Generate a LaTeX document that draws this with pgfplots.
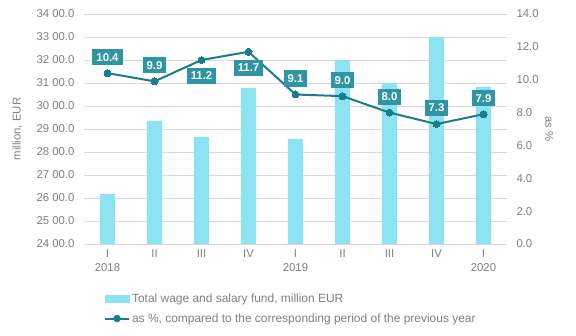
\documentclass[border=0pt]{standalone}
\usepackage{fontspec}
\setmainfont{Liberation Sans}
\usepackage{pgfplots}
\pgfplotsset{compat=1.18}
\definecolor{barcol}{HTML}{8CE4F2}
\definecolor{linecol}{HTML}{1B7D8C}
\definecolor{boxcol}{HTML}{2E95A3}
\definecolor{txtcol}{HTML}{7F7F7F}
\definecolor{gridcol}{HTML}{D9D9D9}
\begin{document}
\begin{tikzpicture}
\useasboundingbox (0bp,0bp) rectangle (576bp,336bp);
\pgfplotsset{
  base/.style={
    at={(84bp,92bp)}, anchor=south west,
    scale only axis, width=423bp, height=230bp,
    xmin=-0.5, xmax=8.5,
    xtick={0,...,8},
    major tick length=0pt,
    tick label style={font=\fontsize{11.4}{12}\selectfont, text=txtcol},
    label style={font=\fontsize{11.4}{12}\selectfont, text=txtcol},
    /pgf/number format/assume math mode=true,
  },
  lbl/.style={draw=none,
    nodes near coords={\pgfmathprintnumber[fixed,fixed zerofill,precision=1]{\pgfplotspointmeta}},
    every node near coord/.append style={fill=boxcol, text=white,
      font=\fontsize{11.4}{12}\selectfont\bfseries, inner xsep=4bp, inner ysep=4bp, anchor=center, yshift=#1}},
}
\begin{axis}[base,
  axis x line=none, axis y line*=left, axis line style={draw=none},
  ymin=2400, ymax=3400, ytick={2400,2500,...,3400},
  yticklabels={24 00.0,25 00.0,26 00.0,27 00.0,28 00.0,29 00.0,30 00.0,31 00.0,32 00.0,33 00.0,34 00.0},
  ymajorgrids, grid style={draw=gridcol, line width=0.8pt},
  yticklabel style={xshift=-6bp},
  ylabel={million, EUR},
  ylabel style={at={(axis description cs:-0.158,0.5)}, anchor=center},
]
\addplot[ybar, bar width=15bp, fill=barcol, draw=none] coordinates {
(0,2617) (1,2935) (2,2865) (3,3078) (4,2857) (5,3200) (6,3100) (7,3299) (8,3083)};
\end{axis}
\begin{axis}[base,
  axis y line*=right, axis x line*=bottom, axis line style={draw=none},
  ymin=0, ymax=14, ytick={0,2,...,14},
  yticklabel={\pgfmathprintnumber[fixed,fixed zerofill,precision=1]{\tick}},
  yticklabel style={xshift=6bp},
  xticklabels={I\\2018,II,III,IV,I\\2019,II,III,IV,I\\2020},
  xticklabel style={align=center, yshift=-2bp, font=\fontsize{11.4}{14}\selectfont},
  ylabel={as \%},
  ylabel style={at={(axis description cs:1.1,0.5)}, anchor=center, rotate=180},
  legend style={at={(0.047,-0.205)}, anchor=north west, draw=none, fill=none,
    font=\fontsize{12}{13}\selectfont, text=txtcol, row sep=6bp,
    inner sep=0pt, legend cell align=left},
  legend image code/.code={},
]
\addlegendimage{legend image code/.code={\fill[barcol] (0bp,-3.5bp) rectangle (24bp,3.5bp);}}
\addlegendentry{Total wage and salary fund, million EUR}
\addlegendimage{legend image code/.code={\draw[linecol, line width=2bp] (0bp,0bp) -- (24bp,0bp); \fill[linecol] (12bp,0bp) circle (3.5bp);}}
\addlegendentry{as \%, compared to the corresponding period of the previous year}
\addplot[linecol, line width=2bp, mark=*, mark size=3.5bp, mark options={line width=0pt}] coordinates {
(0,10.4) (1,9.9) (2,11.2) (3,11.7) (4,9.1) (5,9.0) (6,8.0) (7,7.3) (8,7.9)};
\addplot[lbl=16bp] coordinates {
(0,10.4) (1,9.9) (4,9.1) (5,9.0) (6,8.0) (7,7.3) (8,7.9)};
\addplot[lbl=-16bp] coordinates {
(2,11.2) (3,11.7)};
\end{axis}
\end{tikzpicture}
\end{document}
